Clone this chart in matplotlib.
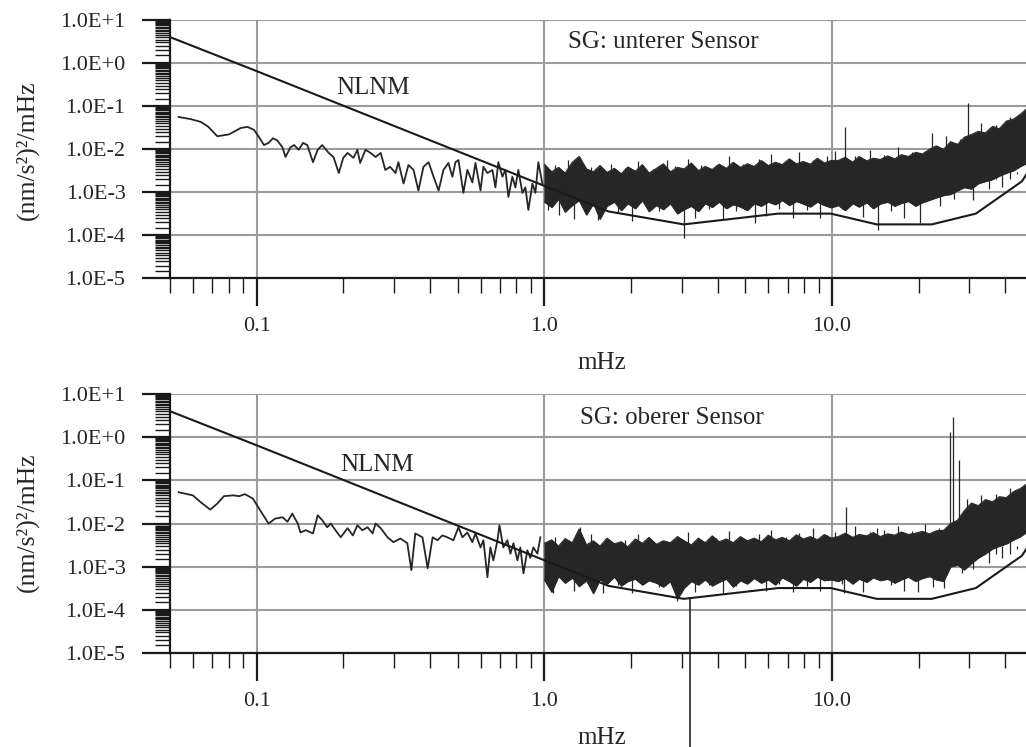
import matplotlib
matplotlib.use("Agg")
import matplotlib.pyplot as plt
from matplotlib.ticker import FixedLocator, FuncFormatter, LogLocator, NullFormatter
import numpy as np

plt.rcParams['font.family'] = ['Liberation Serif', 'DejaVu Serif']

# ---- data (frequencies in mHz, PSD in (nm/s^2)^2/mHz) ----

# NLNM reference curve
nlnm_f = [0.05, 0.1, 1.67, 3.05, 6.49, 9.9, 14.3, 22.2, 31.6, 45.7, 50.0]
nlnm_v = [4.0, 0.65, 3.6e-4, 1.8e-4, 3.2e-4, 3.2e-4, 1.8e-4, 1.8e-4, 3.2e-4, 1.8e-3, 4.6e-3]

# low frequency part, resolved line - lower sensor (top panel)
top_lf_f = [0.0536, 0.059, 0.064, 0.068, 0.073, 0.080, 0.083, 0.088, 0.093, 0.098,
            0.102, 0.106, 0.110, 0.114, 0.118, 0.123, 0.126, 0.131, 0.135, 0.140,
            0.145, 0.150, 0.157, 0.163, 0.169, 0.178, 0.185, 0.193, 0.200, 0.207,
            0.217, 0.224, 0.229, 0.239, 0.249, 0.259, 0.270, 0.280, 0.291, 0.304,
            0.311, 0.324, 0.337, 0.351, 0.365, 0.380, 0.396, 0.412, 0.429, 0.446,
            0.464, 0.479, 0.491, 0.503, 0.523, 0.540, 0.562, 0.576, 0.600, 0.614,
            0.634, 0.660, 0.676, 0.692, 0.715, 0.732, 0.750, 0.774, 0.793, 0.812,
            0.839, 0.859, 0.880, 0.909, 0.931, 0.953, 0.984]
top_lf_v = [0.056, 0.050, 0.043, 0.033, 0.020, 0.022, 0.025, 0.031, 0.033, 0.028,
            0.019, 0.0125, 0.014, 0.018, 0.016, 0.011, 0.0066, 0.011, 0.0125, 0.0097,
            0.014, 0.0125, 0.0050, 0.0097, 0.0125, 0.0082, 0.0066, 0.0028, 0.0063, 0.0082,
            0.0063, 0.0097, 0.0048, 0.0097, 0.0082, 0.0066, 0.0082, 0.0033, 0.0039, 0.0028,
            0.0050, 0.0016, 0.0043, 0.0033, 0.0011, 0.0039, 0.0050, 0.0023, 0.0011, 0.0033,
            0.0048, 0.0023, 0.0050, 0.0056, 0.00097, 0.0033, 0.0017, 0.0048, 0.0011, 0.0039,
            0.0028, 0.0033, 0.0013, 0.0050, 0.0023, 0.0033, 0.00078, 0.0023, 0.0013, 0.0033,
            0.00097, 0.0013, 0.00039, 0.0016, 0.00097, 0.0050, 0.0016]

# low frequency part - upper sensor (bottom panel)
bot_lf_f = [0.0536, 0.060, 0.064, 0.069, 0.073, 0.077, 0.083, 0.087, 0.091, 0.097,
            0.103, 0.110, 0.116, 0.123, 0.128, 0.133, 0.139, 0.142, 0.148, 0.157,
            0.163, 0.169, 0.176, 0.181, 0.188, 0.196, 0.207, 0.216, 0.224, 0.233,
            0.243, 0.253, 0.259, 0.270, 0.285, 0.299, 0.316, 0.334, 0.345, 0.356,
            0.377, 0.393, 0.409, 0.425, 0.442, 0.460, 0.483, 0.503, 0.519, 0.540,
            0.562, 0.576, 0.600, 0.614, 0.634, 0.649, 0.665, 0.687, 0.698, 0.720,
            0.744, 0.762, 0.781, 0.806, 0.825, 0.846, 0.873, 0.894, 0.916, 0.946, 0.969]
bot_lf_v = [0.053, 0.045, 0.031, 0.021, 0.029, 0.043, 0.045, 0.043, 0.048, 0.038,
            0.020, 0.010, 0.013, 0.014, 0.011, 0.017, 0.010, 0.0062, 0.0070, 0.0059,
            0.0155, 0.012, 0.0082, 0.010, 0.0070, 0.0048, 0.0078, 0.0053, 0.0091, 0.0070,
            0.0082, 0.0059, 0.010, 0.0078, 0.0048, 0.0037, 0.0045, 0.0035, 0.00083, 0.0059,
            0.0048, 0.00092, 0.0048, 0.0041, 0.0053, 0.0048, 0.0041, 0.0082, 0.0048, 0.0062,
            0.0037, 0.0059, 0.0028, 0.0041, 0.00057, 0.0028, 0.0014, 0.0041, 0.0091, 0.0028,
            0.0041, 0.0020, 0.0035, 0.0014, 0.0028, 0.00070, 0.0024, 0.0016, 0.0028, 0.0020, 0.0048]

# dense noise band above 1 mHz: upper / lower envelope
band_f = [1.00, 1.06, 1.12, 1.18, 1.25, 1.32, 1.40, 1.48, 1.56, 1.65,
          1.75, 1.85, 1.95, 2.07, 2.19, 2.31, 2.45, 2.59, 2.74, 2.90,
          3.06, 3.24, 3.43, 3.62, 3.83, 4.05, 4.29, 4.53, 4.80, 5.07,
          5.36, 5.67, 6.00, 6.35, 6.71, 7.10, 7.51, 7.94, 8.40, 8.88,
          9.39, 9.93, 10.5, 11.1, 11.8, 12.4, 13.2, 13.9, 14.7, 15.6,
          16.5, 17.4, 18.4, 19.5, 20.6, 21.8, 23.0, 24.4, 25.8, 27.3,
          28.8, 30.5, 32.2, 34.1, 36.1, 38.1, 40.3, 42.7, 45.1, 47.7]

top_hi = [4.5e-3, 3.0e-3, 3.8e-3, 2.8e-3, 5.0e-3, 6.8e-3, 3.5e-3, 3.0e-3, 4.2e-3, 2.9e-3,
          3.6e-3, 2.7e-3, 3.9e-3, 3.1e-3, 4.4e-3, 2.8e-3, 3.6e-3, 4.6e-3, 3.0e-3, 3.8e-3,
          3.5e-3, 4.8e-3, 3.2e-3, 4.0e-3, 3.4e-3, 4.5e-3, 3.6e-3, 5.0e-3, 3.8e-3, 4.6e-3,
          4.0e-3, 5.5e-3, 4.2e-3, 5.0e-3, 4.4e-3, 6.0e-3, 4.6e-3, 5.2e-3, 4.5e-3, 6.2e-3,
          4.8e-3, 5.5e-3, 5.5e-3, 6.5e-3, 5.0e-3, 6.8e-3, 5.4e-3, 6.2e-3, 5.8e-3, 7.0e-3,
          6.0e-3, 7.5e-3, 6.8e-3, 8.5e-3, 7.8e-3, 1.0e-2, 1.2e-2, 1.0e-2, 1.5e-2, 1.3e-2,
          1.9e-2, 2.2e-2, 2.6e-2, 2.4e-2, 3.4e-2, 3.0e-2, 4.5e-2, 5.0e-2, 6.5e-2, 9.0e-2]
top_lo = [6.0e-4, 4.5e-4, 7.0e-4, 3.5e-4, 5.0e-4, 6.5e-4, 3.0e-4, 5.5e-4, 2.4e-4, 4.8e-4,
          6.0e-4, 3.8e-4, 5.5e-4, 4.2e-4, 6.5e-4, 3.6e-4, 5.0e-4, 4.0e-4, 5.5e-4, 3.2e-4,
          4.0e-4, 4.8e-4, 3.6e-4, 5.5e-4, 4.5e-4, 6.0e-4, 4.2e-4, 5.2e-4, 4.6e-4, 3.8e-4,
          5.5e-4, 4.8e-4, 6.0e-4, 5.2e-4, 6.5e-4, 5.0e-4, 6.2e-4, 5.4e-4, 4.6e-4, 6.0e-4,
          5.0e-4, 4.4e-4, 5.0e-4, 3.8e-4, 5.5e-4, 4.6e-4, 5.8e-4, 4.2e-4, 5.4e-4, 6.0e-4,
          4.8e-4, 5.6e-4, 6.2e-4, 4.8e-4, 5.8e-4, 6.6e-4, 7.5e-4, 8.5e-4, 9.0e-4, 1.1e-3,
          1.3e-3, 1.2e-3, 1.6e-3, 1.8e-3, 2.0e-3, 2.4e-3, 2.8e-3, 3.2e-3, 4.0e-3, 4.8e-3]

bot_hi = [3.5e-3, 4.2e-3, 3.0e-3, 4.5e-3, 3.6e-3, 7.5e-3, 3.2e-3, 4.0e-3, 3.0e-3, 4.6e-3,
          3.4e-3, 3.8e-3, 2.9e-3, 4.4e-3, 3.5e-3, 4.8e-3, 3.3e-3, 4.0e-3, 3.6e-3, 5.0e-3,
          4.0e-3, 3.2e-3, 4.6e-3, 3.6e-3, 5.2e-3, 3.8e-3, 4.4e-3, 3.6e-3, 5.0e-3, 4.0e-3,
          4.6e-3, 3.8e-3, 5.4e-3, 4.2e-3, 4.8e-3, 4.0e-3, 5.5e-3, 4.4e-3, 5.0e-3, 4.2e-3,
          5.6e-3, 4.6e-3, 5.0e-3, 6.0e-3, 4.8e-3, 5.6e-3, 5.2e-3, 6.2e-3, 5.0e-3, 5.8e-3,
          5.4e-3, 6.4e-3, 5.6e-3, 6.0e-3, 6.6e-3, 5.8e-3, 6.8e-3, 7.0e-3, 1.0e-2, 1.2e-2,
          2.0e-2, 3.0e-2, 2.6e-2, 3.6e-2, 3.2e-2, 4.2e-2, 4.0e-2, 5.5e-2, 6.5e-2, 8.5e-2]
bot_lo = [5.0e-4, 2.6e-4, 6.0e-4, 4.2e-4, 5.5e-4, 3.5e-4, 4.8e-4, 2.4e-4, 5.0e-4, 4.0e-4,
          5.8e-4, 3.6e-4, 4.6e-4, 5.2e-4, 3.8e-4, 4.8e-4, 4.2e-4, 3.4e-4, 4.6e-4, 1.8e-4,
          3.2e-4, 4.6e-4, 3.8e-4, 5.0e-4, 3.6e-4, 4.4e-4, 5.2e-4, 3.4e-4, 4.8e-4, 4.0e-4,
          5.4e-4, 4.2e-4, 5.0e-4, 3.8e-4, 5.6e-4, 4.6e-4, 3.6e-4, 5.2e-4, 4.4e-4, 5.8e-4,
          4.8e-4, 5.0e-4, 4.6e-4, 5.4e-4, 4.0e-4, 5.2e-4, 4.4e-4, 5.6e-4, 4.8e-4, 5.2e-4,
          4.2e-4, 5.0e-4, 5.8e-4, 4.6e-4, 5.4e-4, 6.0e-4, 5.0e-4, 4.6e-4, 1.0e-3, 1.1e-3,
          8.5e-4, 1.2e-3, 1.6e-3, 2.0e-3, 2.6e-3, 3.0e-3, 3.4e-3, 4.2e-3, 5.0e-3, 6.5e-3]

# single spikes (up) and dips (down) sticking out of the band
top_spike_f = [1.33, 2.67, 11.1, 22.2, 29.7,
               1.09, 1.21, 1.45, 1.7, 1.9, 2.12, 2.38, 2.84, 3.15, 3.5, 3.95, 4.4, 4.9,
               5.55, 6.15, 6.9, 7.7, 8.6, 9.6, 10.2, 12.0, 13.5, 15.2, 17.0, 18.9,
               24.9, 27.9, 33.0, 37.0, 41.5]
top_spike_v = [6.6e-3, 5.6e-3, 3.3e-2, 2.4e-2, 0.12,
               4.2e-3, 5.6e-3, 3.8e-3, 4.6e-3, 3.6e-3, 5.4e-3, 3.4e-3, 4.0e-3, 6.0e-3, 4.2e-3,
               4.4e-3, 6.8e-3, 4.6e-3, 5.8e-3, 7.6e-3, 5.2e-3, 8.4e-3, 5.6e-3, 7.0e-3, 9.0e-3,
               6.8e-3, 9.4e-3, 7.4e-3, 1.1e-2, 8.6e-3, 2.0e-2, 1.7e-2, 4.0e-2, 3.6e-2, 5.6e-2]
top_dip_f = [1.12, 1.54, 3.06, 5.4, 14.4, 20.2,
             1.03, 1.27, 1.8, 2.02, 2.5, 3.34, 3.72, 4.17, 4.65, 5.9, 6.55, 7.3, 8.15,
             9.1, 10.8, 12.8, 16.0, 17.8, 23.7, 26.5, 31.0, 35.0, 39.0, 44.0]
top_dip_v = [3.0e-4, 2.3e-4, 8.6e-5, 1.9e-4, 1.3e-4, 1.9e-4,
             3.8e-4, 2.4e-4, 3.4e-4, 2.2e-4, 3.6e-4, 2.6e-4, 4.0e-4, 2.4e-4, 3.6e-4, 2.8e-4,
             4.2e-4, 2.6e-4, 3.8e-4, 2.5e-4, 4.0e-4, 2.7e-4, 3.6e-4, 2.5e-4, 4.8e-4, 7.0e-4,
             6.5e-4, 1.2e-3, 1.3e-3, 2.6e-3]

bot_spike_f = [1.33, 11.2, 14.3, 25.6, 26.3, 27.6,
               1.09, 1.21, 1.45, 1.7, 1.9, 2.12, 2.38, 2.84, 3.15, 3.5, 3.95, 4.4, 4.9,
               5.55, 6.15, 6.9, 7.7, 8.6, 9.6, 10.2, 12.0, 13.5, 15.2, 17.0, 18.9, 21.0,
               23.5, 29.5, 33.0, 37.0, 41.5]
bot_spike_v = [8.2e-3, 2.4e-2, 8.0e-3, 1.3, 2.9, 0.29,
               4.8e-3, 3.8e-3, 5.6e-3, 3.6e-3, 4.2e-3, 5.8e-3, 3.8e-3, 4.4e-3, 6.2e-3, 4.0e-3,
               4.6e-3, 6.6e-3, 4.4e-3, 5.6e-3, 7.2e-3, 4.8e-3, 6.0e-3, 7.8e-3, 5.4e-3, 6.4e-3,
               8.6e-3, 6.2e-3, 7.0e-3, 9.0e-3, 6.8e-3, 1.0e-2, 8.0e-3, 3.8e-2, 4.6e-2, 4.8e-2,
               6.8e-2]
bot_dip_f = [1.07, 1.6, 2.9, 11.0, 19.9,
             1.03, 1.27, 1.8, 2.02, 2.5, 3.34, 3.72, 4.17, 4.65, 5.9, 6.55, 7.3, 8.15,
             9.1, 10.8, 12.8, 16.0, 17.8, 22.5, 24.5, 28.2, 31.0, 35.0, 39.0, 44.0]
bot_dip_v = [2.4e-4, 2.4e-4, 1.6e-4, 2.4e-4, 2.6e-4,
             3.6e-4, 2.8e-4, 3.8e-4, 2.5e-4, 3.4e-4, 2.6e-4, 3.8e-4, 2.4e-4, 3.6e-4, 2.7e-4,
             4.0e-4, 2.6e-4, 3.6e-4, 2.8e-4, 3.9e-4, 2.6e-4, 3.8e-4, 2.7e-4, 3.4e-4, 3.2e-4,
             7.0e-4, 9.0e-4, 1.2e-3, 1.6e-3, 2.6e-3]

# the one sample in the upper sensor that drops off the plot
bot_drop_f = 3.21
bot_drop_v = [1.9e-4, 6.5e-8]

panel_titles = ["SG: unterer Sensor", "SG: oberer Sensor"]

# ---- plotting ----
ink = '#262626'
gridc = '#9c9c9c'

fig = plt.figure(figsize=(10.26, 7.47), dpi=100)
ax_top = fig.add_axes([0.1657, 0.6272, 0.8343, 0.3461])
ax_bot = fig.add_axes([0.1657, 0.1258, 0.8343, 0.3467])

panels = [
    (ax_top, top_lf_f, top_lf_v, top_hi, top_lo, top_spike_f, top_spike_v, top_dip_f, top_dip_v,
     (0.189, 0.264), (1.21, 3.09)),
    (ax_bot, bot_lf_f, bot_lf_v, bot_hi, bot_lo, bot_spike_f, bot_spike_v, bot_dip_f, bot_dip_v,
     (0.195, 0.225), (1.33, 2.77)),
]


def ylab(v, pos):
    return "1.0E{:+d}".format(int(round(np.log10(v))))


for i, (ax, lf_f, lf_v, hi, lo, sp_f, sp_v, dp_f, dp_v, nl_pos, sg_pos) in enumerate(panels):
    ax.set_xscale('log')
    ax.set_yscale('log')
    ax.set_xlim(0.05, 47.2)
    ax.set_ylim(1e-5, 10)

    ax.plot(lf_f, lf_v, color=ink, lw=1.3, zorder=3)
    ax.fill_between(band_f, lo, hi, color=ink, lw=0.6, zorder=3)
    ax.plot(band_f, hi, color=ink, lw=0.7, zorder=3)
    ax.plot(band_f, lo, color=ink, lw=0.7, zorder=3)
    ax.vlines(sp_f, 2e-3, sp_v, color=ink, lw=0.9, zorder=3)
    ax.vlines(dp_f, dp_v, 3e-3, color=ink, lw=0.9, zorder=3)
    if i == 1:
        ax.plot([bot_drop_f, bot_drop_f], bot_drop_v, color=ink, lw=1.2, zorder=3, clip_on=False)

    ax.plot(nlnm_f, nlnm_v, color='#1a1a1a', lw=1.5, zorder=4)

    ax.text(nl_pos[0], nl_pos[1], "NLNM", fontsize=18, color=ink, va='center', ha='left')
    ax.text(sg_pos[0], sg_pos[1], panel_titles[i], fontsize=18, color=ink, va='center', ha='left')

    # axes styling
    for s in ['top', 'right']:
        ax.spines[s].set_visible(False)
    for s in ['left', 'bottom']:
        ax.spines[s].set_linewidth(1.6)
        ax.spines[s].set_color('#1a1a1a')
        ax.spines[s].set_zorder(5)

    ax.xaxis.set_major_locator(FixedLocator([0.1, 1.0, 10.0]))
    ax.xaxis.set_major_formatter(FuncFormatter(lambda v, p: {0.1: "0.1", 1.0: "1.0", 10.0: "10.0"}.get(round(v, 1), "")))
    ax.xaxis.set_minor_locator(LogLocator(base=10, subs=np.arange(2, 10), numticks=20))
    ax.xaxis.set_minor_formatter(NullFormatter())

    ax.yaxis.set_major_locator(FixedLocator([1e-5, 1e-4, 1e-3, 1e-2, 1e-1, 1e0, 1e1]))
    ax.yaxis.set_major_formatter(FuncFormatter(ylab))
    ax.yaxis.set_minor_locator(LogLocator(base=10, subs=np.arange(1.5, 10, 0.5), numticks=30))
    ax.yaxis.set_minor_formatter(NullFormatter())

    ax.tick_params(axis='both', which='major', direction='out', length=20, width=1.6,
                   color='#1a1a1a', labelsize=16, labelcolor=ink)
    ax.tick_params(axis='both', which='minor', direction='out', length=10.5, width=1.0,
                   color='#1a1a1a')
    ax.tick_params(axis='x', which='major', pad=8)
    ax.tick_params(axis='y', which='major', pad=12)

    ax.grid(True, which='major', color=gridc, lw=1.5, zorder=0)
    ax.set_axisbelow(True)

# axis titles
fig.text(27 / 1026, 1 - 150 / 747, "(nm/s²)²/mHz", rotation=90, fontsize=18.5, color=ink,
         ha='center', va='center')
fig.text(27 / 1026, 1 - 522 / 747, "(nm/s²)²/mHz", rotation=90, fontsize=18.5, color=ink,
         ha='center', va='center')
fig.text(602 / 1026, 1 - 363 / 747, "mHz", fontsize=18, color=ink, ha='center', va='center')
fig.text(602 / 1026, 1 - 738 / 747, "mHz", fontsize=18, color=ink, ha='center', va='center')

fig.savefig("out.png", dpi=100)
